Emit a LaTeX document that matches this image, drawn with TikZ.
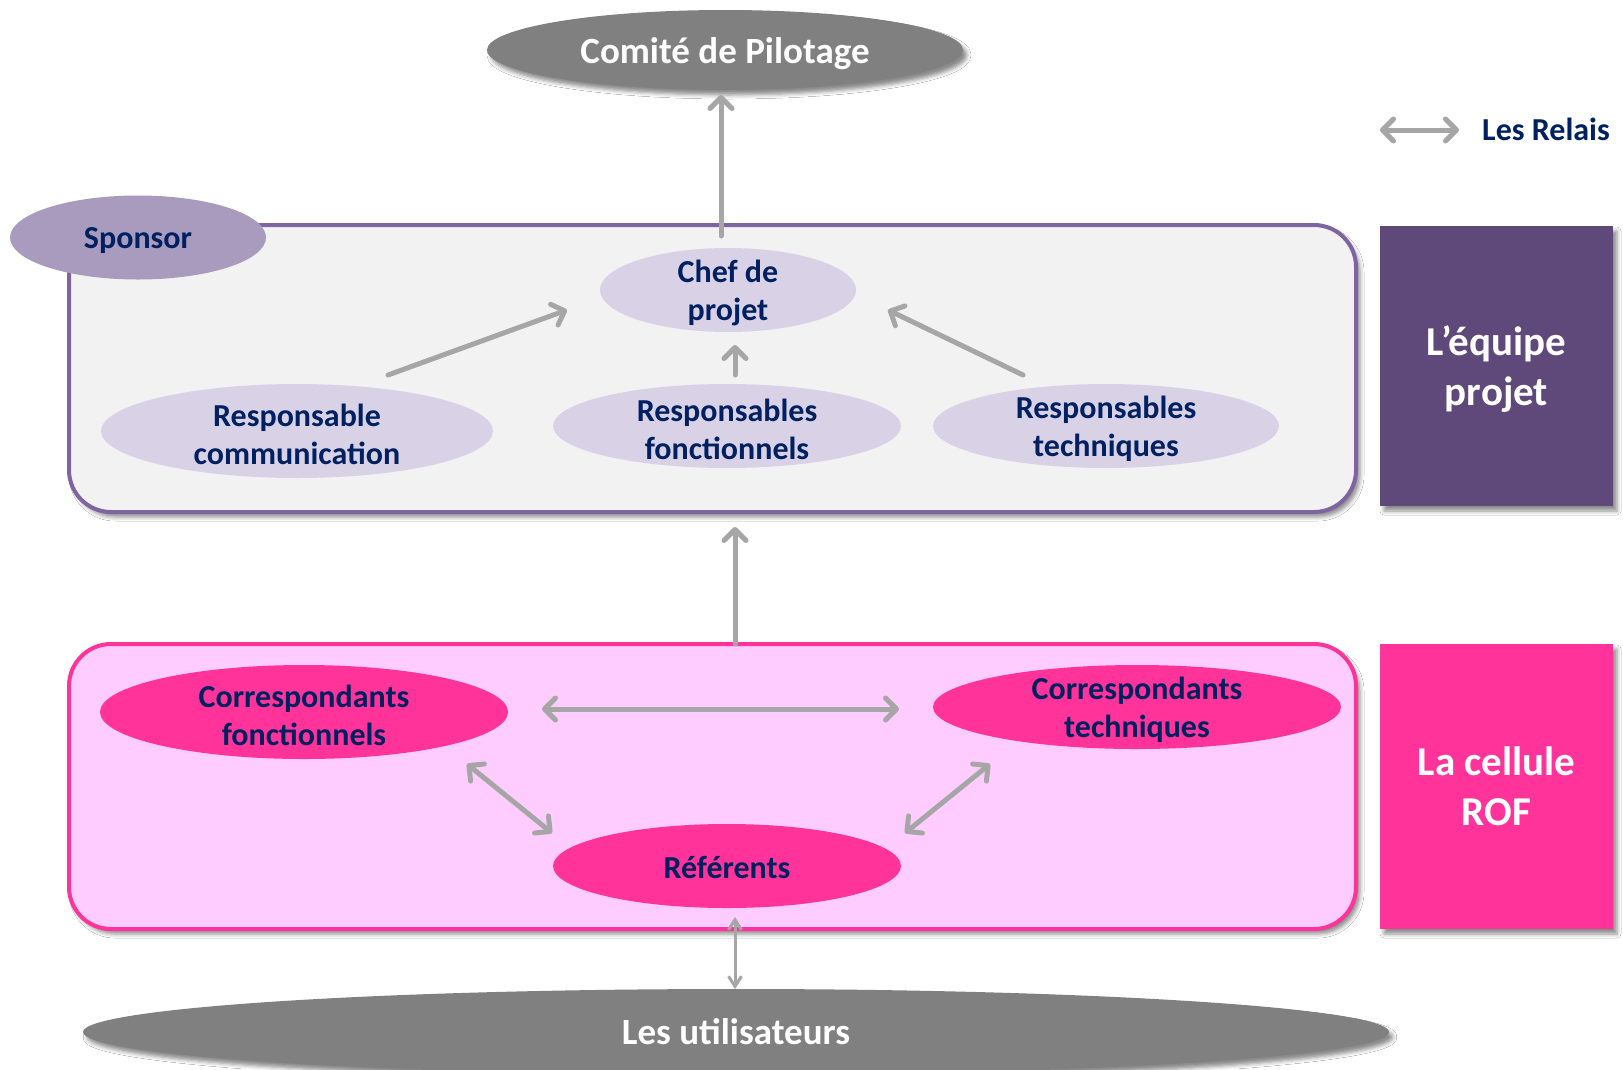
\documentclass[tikz,border=0pt]{standalone}
\usepackage{fontspec}
\setmainfont{Carlito}
\usetikzlibrary{shapes.geometric,arrows.meta,shadows.blur,calc}
\definecolor{navy}{HTML}{002060}
\definecolor{purpleline}{HTML}{8064A2}
\definecolor{boxgray}{HTML}{F2F2F2}
\definecolor{sponsorfill}{HTML}{A99BBD}
\definecolor{lavender}{HTML}{D9D2E6}
\definecolor{darkpurple}{HTML}{5F497A}
\definecolor{pinkline}{HTML}{FF3399}
\definecolor{pinkfill}{HTML}{FFCCFF}
\definecolor{ellgray}{HTML}{808080}
\definecolor{arrgray}{HTML}{A6A6A6}
\begin{document}
\begin{tikzpicture}[x=1pt,y=-1pt,
  txt/.style={font=\bfseries\fontsize{32}{38}\selectfont, text=navy, align=center, inner sep=0pt},
  ell/.style={ellipse, inner sep=0pt},
  lab/.style={label={[txt,yshift=-3pt]center:#1}},
  wlab/.style={label={[txt,text=white,yshift=-3.5pt,font=\bfseries\fontsize{41}{50}\selectfont]center:#1}},
  shad/.style={blur shadow={shadow xshift=4pt, shadow yshift=-5pt, shadow blur radius=4pt, shadow opacity=45}},
  bigbox/.style={draw, line width=4pt, rounded corners=42pt, minimum width=1287pt, shad},
  sidebox/.style={inner sep=0pt, minimum width=233pt, shad},
  arr/.style={draw=arrgray, line width=5pt, line cap=round, -{Straight Barb[length=11pt,width=22pt,line cap=round,line join=round]}},
  darr/.style={arr, {Straight Barb[length=11pt,width=22pt,line cap=round,line join=round]}-{Straight Barb[length=11pt,width=22pt,line cap=round,line join=round]}},
  thinarr/.style={draw=arrgray, line width=3pt, {Straight Barb[length=10pt,width=13pt]}-{Straight Barb[length=10pt,width=13pt]}}
]
\useasboundingbox (0,0) rectangle (1623,1069);
\fill[white] (0,0) rectangle (1623,1069);

% big boxes
\node[bigbox, draw=purpleline, fill=boxgray, minimum height=287pt] (equipe) at (712.5,368.5) {};
\node[bigbox, draw=pinkline, fill=pinkfill, minimum height=285pt] (cellule) at (712.5,786.5) {};

% side boxes
\node[sidebox, fill=darkpurple, minimum height=280pt, wlab={L’équipe\\projet}] (equipelabel) at (1496.5,366) {};
\node[sidebox, fill=pinkline, minimum height=285pt,
  label={[txt,text=white,yshift=0pt,font=\bfseries\fontsize{41}{50}\selectfont]center:{La cellule\\ROF}}] (rof) at (1496.5,786.5) {};

% top and bottom ellipses
\node[ell, fill=ellgray, minimum width=476pt, minimum height=80pt, shad,
  label={[txt,text=white,yshift=-4pt,font=\bfseries\fontsize{37}{44}\selectfont]center:Comité de Pilotage}] (comite) at (725,50) {};
\begin{scope}
\clip (0,0) rectangle (1623,1069);
\node[ell, fill=ellgray, text=white, minimum width=1306pt, minimum height=86pt, shad,
  font=\bfseries\fontsize{37}{44}\selectfont] (users) at (736,1032) {Les utilisateurs};
\end{scope}

% equipe projet content
\node[ell, fill=sponsorfill, minimum width=256pt, minimum height=84pt, lab={Sponsor}] (sponsor) at (138,237.5) {};
\node[ell, fill=lavender, minimum width=256pt, minimum height=84pt, lab={Chef de\\projet}] (chef) at (728,290) {};
\node[ell, fill=lavender, minimum width=392pt, minimum height=94pt, lab={Responsable\\communication}] (comm) at (297,431) {};
\node[ell, fill=lavender, minimum width=348pt, minimum height=84pt, lab={Responsables\\fonctionnels}] (rfonc) at (727,426) {};
\node[ell, fill=lavender, minimum width=346pt, minimum height=84pt, lab={Responsables\\techniques}] (rtech) at (1106,426) {};

% cellule content
\node[ell, fill=pinkline, minimum width=408pt, minimum height=94pt, lab={Correspondants\\fonctionnels}] (cfonc) at (304,712) {};
\node[ell, fill=pinkline, minimum width=408pt, minimum height=84pt, lab={Correspondants\\techniques}] (ctech) at (1137,707) {};
\node[ell, fill=pinkline, minimum width=348pt, minimum height=84pt,
  label={[txt,yshift=-1pt]center:Référents}] (ref) at (727,866) {};

% connector end points
\coordinate (chefTop) at (721,236);
\coordinate (comiteBot) at (721,95);
\coordinate (commOut) at (388,375);
\coordinate (chefL) at (567,310);
\coordinate (rfoncOut) at (735,375);
\coordinate (chefB) at (735,345);
\coordinate (rtechOut) at (1023,375);
\coordinate (chefR) at (888,310);
\coordinate (celluleTop) at (735,644);
\coordinate (equipeBot) at (735,527);
\coordinate (cfoncR) at (542,709);
\coordinate (ctechL) at (899,709);
\coordinate (cfoncB) at (467,764);
\coordinate (refL) at (552,833);
\coordinate (ctechB) at (990,764);
\coordinate (refR) at (905,833);
\coordinate (refBot) at (735,917);
\coordinate (usersTop) at (735,989);

\draw[arr] (chefTop) -- (comiteBot);
\draw[arr] (commOut) -- (chefL);
\draw[arr] (rfoncOut) -- (chefB);
\draw[arr] (rtechOut) -- (chefR);
\draw[arr] (celluleTop) -- (equipeBot);
\draw[darr] (cfoncR) -- (ctechL);
\draw[darr] (cfoncB) -- (refL);
\draw[darr] (ctechB) -- (refR);
\draw[thinarr] (refBot) -- (usersTop);

% legend
\coordinate (legA) at (1380,130);
\coordinate (legB) at (1459,130);
\draw[darr] (legA) -- (legB);
\node[txt, anchor=west, font=\bfseries\fontsize{32}{38}\selectfont] (relais) at (1482,129) {Les Relais};
\end{tikzpicture}
\end{document}
